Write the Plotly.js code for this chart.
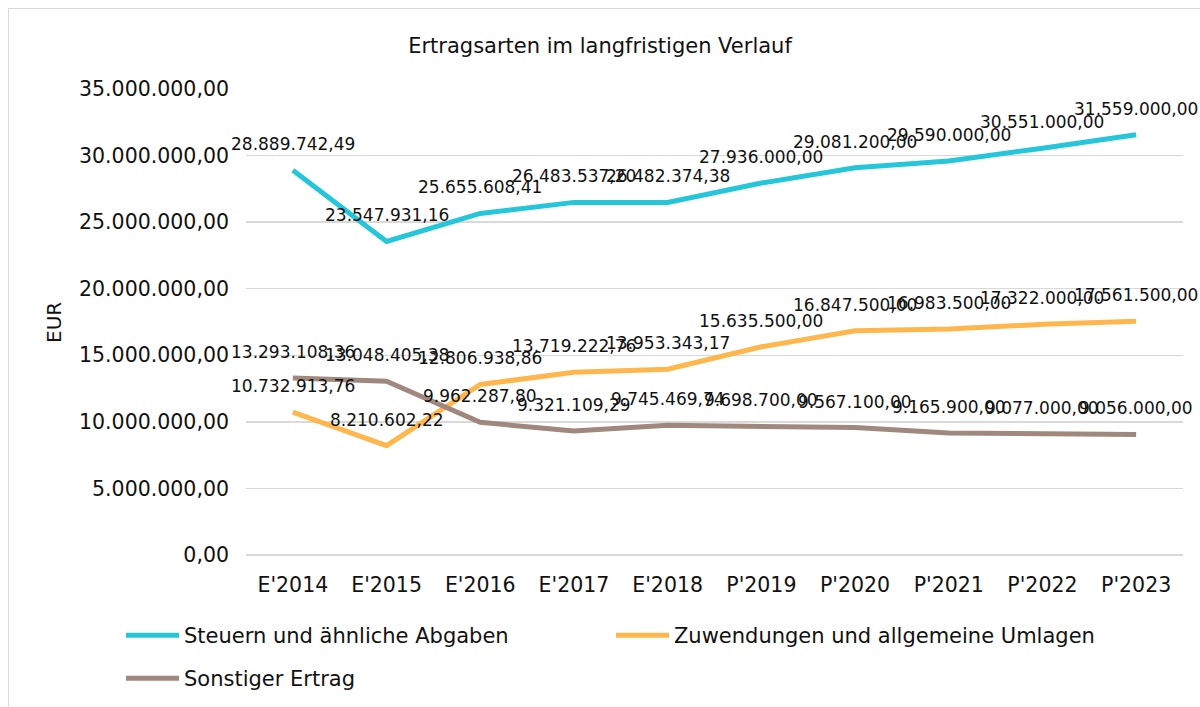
<!DOCTYPE html>
<html><head><meta charset="utf-8">
<script src="https://cdn.plot.ly/plotly-3.0.1.min.js"></script>
<style>
html,body{margin:0;padding:0;background:#fff;}
#chart{position:absolute;left:0;top:0;width:1200px;height:707px;}
#frame{position:absolute;left:8px;top:8px;width:1300px;height:800px;border:1px solid #d9d9d9;pointer-events:none;}
</style></head>
<body>
<div id="chart"></div>
<div id="frame"></div>
<script>
const categories = ["E'2014","E'2015","E'2016","E'2017","E'2018","P'2019","P'2020","P'2021","P'2022","P'2023"];
const steuern = [28889742.49, 23547931.16, 25655608.41, 26483537.20, 26482374.38, 27936000.00, 29081200.00, 29590000.00, 30551000.00, 31559000.00];
const zuwendungen = [10732913.76, 8210602.22, 12806938.86, 13719222.76, 13953343.17, 15635500.00, 16847500.00, 16983500.00, 17322000.00, 17561500.00];
const sonstiger = [13293108.36, 13048405.38, 9962287.80, 9321109.29, 9745469.74, 9698700.00, 9567100.00, 9165900.00, 9077000.00, 9056000.00];
const seriesNames = ["Steuern und ähnliche Abgaben", "Zuwendungen und allgemeine Umlagen", "Sonstiger Ertrag"];
const seriesColors = ["#26C6DA", "#FFB74D", "#A1887F"];
const yTicks = [0, 5000000, 10000000, 15000000, 20000000, 25000000, 30000000, 35000000];

const FONT = 'DejaVu Sans, sans-serif';
const fmt = new Intl.NumberFormat('de-DE', {minimumFractionDigits: 2, maximumFractionDigits: 2});
const allSeries = [steuern, zuwendungen, sonstiger];
const legendOf = ['legend', 'legend2', 'legend3'];

const traces = allSeries.map((vals, i) => ({
  type: 'scatter', mode: 'lines', x: categories, y: vals, name: seriesNames[i],
  legend: legendOf[i],
  line: {color: seriesColors[i], width: 5}, hoverinfo: 'skip'
}));

const annotations = [];
allSeries.forEach(vals => {
  vals.forEach((v, j) => {
    annotations.push({x: categories[j], y: v, xref: 'x', yref: 'y', text: fmt.format(v),
      showarrow: false, yshift: 26, font: {family: FONT, size: 17, color: '#111'}});
  });
});
annotations.push({xref: 'paper', yref: 'y', x: -0.205, xanchor: 'center', y: 17500000, text: 'EUR', showarrow: false, textangle: -90,
  font: {family: FONT, size: 20, color: '#111'}});

const legendFont = {family: FONT, size: 21, color: '#111'};
function legendAt(x, yTopPx) {
  return {orientation: 'h', x: x, xref: 'paper', xanchor: 'left', y: 1 - yTopPx / 707, yref: 'container', yanchor: 'top',
    itemwidth: 53, font: legendFont, bgcolor: 'rgba(0,0,0,0)'};
}
const layout = {
  width: 1200, height: 707,
  margin: {l: 246, r: 17, t: 89, b: 152},
  paper_bgcolor: '#fff', plot_bgcolor: '#fff',
  separators: ',.',
  font: {family: FONT, color: '#111'},
  title: {text: 'Ertragsarten im langfristigen Verlauf', x: 0.5, xanchor: 'center', y: 0.936, yanchor: 'middle',
    font: {size: 21, color: '#111'}},
  xaxis: {type: 'category', range: [-0.5, 9.5], showgrid: false, zeroline: false, showline: false,
    ticks: '', ticklabelstandoff: 15, tickfont: {size: 20.5, color: '#111'}, fixedrange: true},
  yaxis: {range: [0, 35000000], tickvals: yTicks, tickformat: ',.2f', showgrid: true, gridcolor: '#d9d9d9', gridwidth: 1.5,
    zeroline: true, zerolinecolor: '#d9d9d9', zerolinewidth: 1.5, showline: false, ticks: '', ticklabelstandoff: 16,
    tickfont: {size: 20.5, color: '#111'}, fixedrange: true},
  showlegend: true,
  legend: legendAt(-0.1334, 615),
  legend2: legendAt(0.3895, 615),
  legend3: legendAt(-0.1334, 658),
  annotations: annotations
};

Plotly.newPlot('chart', traces, layout, {displayModeBar: false, staticPlot: true});
</script>
</body></html>
